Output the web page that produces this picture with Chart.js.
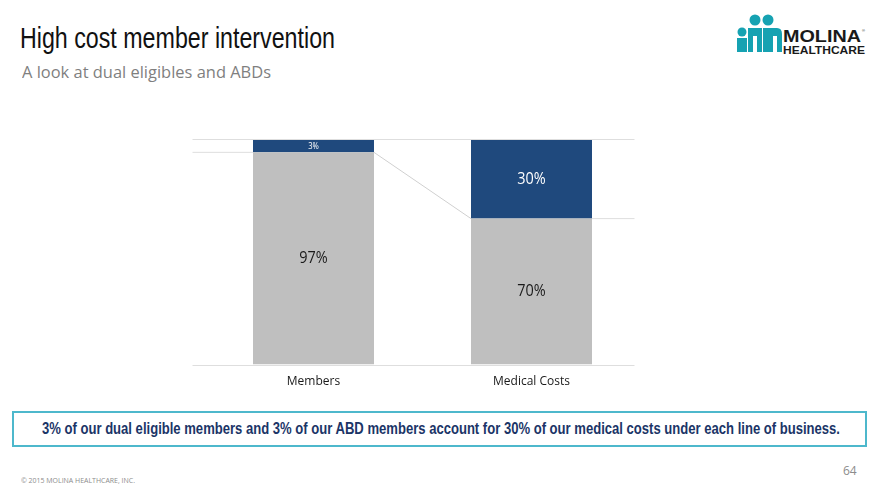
<!DOCTYPE html>
<html>
<head>
<meta charset="utf-8">
<script src="https://cdn.jsdelivr.net/npm/chart.js@4.4.0/dist/chart.umd.min.js"></script>
<style>
  html, body { margin: 0; padding: 0; background: #fff; }
  body { width: 880px; height: 495px; position: relative; overflow: hidden; font-family: "Open Sans", sans-serif; }
  .fit { display: inline-block; transform-origin: 0 0; white-space: nowrap; }
  .title { position: absolute; left: 20px; top: 22px; font-family: "Liberation Sans", sans-serif; font-size: 29px; color: #111; }
  .subtitle { position: absolute; left: 22px; top: 61px; font-family: "Open Sans", sans-serif; font-size: 16px; color: #7f7f7f; }
  .logo { position: absolute; left: 737px; top: 12px; width: 130px; height: 44px; }
  .callout { position: absolute; left: 12px; top: 411px; width: 851px; height: 32px; border: 2px solid #4db8cc; }
  .callout .fit { position: absolute; left: 28px; top: 6px; font-family: "Liberation Sans", sans-serif; font-weight: bold; font-size: 17px; color: #1b3567; }
  .copy { position: absolute; left: 21px; top: 476px; font-size: 7px; color: #8c8c8c; }
  .page { position: absolute; left: 843px; top: 462px; font-size: 12px; color: #8c8c8c; }
  #wrap { position: absolute; left: 180px; top: 120px; width: 480px; height: 280px; }
</style>
</head>
<body>
<div class="title"><span class="fit" data-w="315">High cost member intervention</span></div>
<div class="subtitle"><span class="fit" data-w="249">A look at dual eligibles and ABDs</span></div>

<svg class="logo" viewBox="0 0 130 44">
  <circle cx="5" cy="20" r="4.5" fill="#16a2b2"/>
  <circle cx="18" cy="8" r="5.5" fill="#16a2b2"/>
  <circle cx="31" cy="8" r="5.5" fill="#16a2b2"/>
  <path d="M0 26 h10 v14 h-10 z" fill="#16a2b2"/>
  <path d="M11 16 h14 v24 h-5 v-16 h-4 v16 h-5 z" fill="#16a2b2"/>
  <path d="M26 16 h14 q5 0 5 6 v18 h-5 v-16 h-4 v16 h-10 z" fill="#16a2b2"/>
  <text x="46" y="30" font-family="Liberation Sans, sans-serif" font-weight="bold" font-size="17" fill="#1a1a1a" textLength="78" lengthAdjust="spacingAndGlyphs">MOLINA</text>
  <text x="125" y="20" font-family="Liberation Sans, sans-serif" font-size="4" fill="#1a1a1a">®</text>
  <text x="46" y="42" font-family="Liberation Sans, sans-serif" font-weight="bold" font-size="11" fill="#1a1a1a" textLength="82" lengthAdjust="spacingAndGlyphs">HEALTHCARE</text>
</svg>

<div id="wrap"><canvas id="chart"></canvas></div>

<div class="callout"><span class="fit" data-w="798">3% of our dual eligible members and 3% of our ABD members account for 30% of our medical costs under each line of business.</span></div>
<div class="copy"><span class="fit" data-w="114">© 2015 MOLINA HEALTHCARE, INC.</span></div>
<div class="page">64</div>

<script>
// squeeze text to the widths measured on the slide (condensed font not installed)
document.querySelectorAll(".fit").forEach((el) => {
  const w = el.getBoundingClientRect().width;
  el.style.transform = "scaleX(" + (Number(el.dataset.w) / w) + ")";
});

const categories = ["Members", "Medical Costs"];
// segment heights as drawn on the slide (share of the 100% column)
const restShare = [94.5, 65];
const highCostShare = [5.5, 35];
// label text printed on the segments
const restLabels = ["97%", "70%"];
const highCostLabels = ["3%", "30%"];

const colors = {
  grey: "#bfbfbf",
  navy: "#1f497d",
  line: "#dedede",
  seriesLine: "#d0d0d0",
  text: "#1a1a1a",
  white: "#ffffff",
};

// grid lines and the series line between the two stacks
const seriesLines = {
  id: "seriesLines",
  beforeDatasetsDraw: (chart) => {
    const ctx = chart.ctx;
    const area = chart.chartArea;
    const y = chart.scales.y;
    const left = area.left - 12;
    const right = area.right - 6;
    const bars0 = chart.getDatasetMeta(0).data;
    ctx.save();
    ctx.lineWidth = 1;
    ctx.strokeStyle = colors.line;
    ctx.beginPath();
    // top line (100%)
    ctx.moveTo(left, Math.round(y.getPixelForValue(100)) - 0.5);
    ctx.lineTo(right, Math.round(y.getPixelForValue(100)) - 0.5);
    // baseline
    ctx.moveTo(left, Math.round(y.getPixelForValue(0)) + 0.5);
    ctx.lineTo(right, Math.round(y.getPixelForValue(0)) + 0.5);
    // stack levels outside the bars
    const yA = y.getPixelForValue(restShare[0]);
    const yB = y.getPixelForValue(restShare[1]);
    const a = bars0[0];
    const b = bars0[1];
    ctx.moveTo(left, yA);
    ctx.lineTo(a.x - a.width / 2, yA);
    ctx.moveTo(b.x + b.width / 2, yB);
    ctx.lineTo(right, yB);
    ctx.stroke();
    ctx.strokeStyle = colors.seriesLine;
    ctx.beginPath();
    ctx.moveTo(a.x + a.width / 2, yA);
    ctx.lineTo(b.x - b.width / 2, yB);
    ctx.stroke();
    ctx.restore();
  },
};

const barLabels = {
  id: "barLabels",
  afterDatasetsDraw: (chart) => {
    const ctx = chart.ctx;
    ctx.save();
    ctx.textAlign = "center";
    ctx.textBaseline = "middle";
    chart.data.datasets.forEach((ds, di) => {
      chart.getDatasetMeta(di).data.forEach((bar, i) => {
        const text = ds.labelText[i];
        const small = ds.data[i] < 10;
        ctx.font = (small ? "9px" : "17px") + " 'Open Sans', sans-serif";
        ctx.fillStyle = di === 1 ? colors.white : colors.text;
        const mid = (bar.y + bar.base) / 2;
        ctx.save();
        ctx.translate(bar.x, mid);
        ctx.scale(0.85, 1);
        ctx.fillText(text, 0, 0);
        ctx.restore();
      });
    });
    ctx.restore();
  },
};

const config = {
  type: "bar",
  data: {
    labels: categories,
    datasets: [
      { label: "Rest", data: restShare, labelText: restLabels, backgroundColor: colors.grey },
      { label: "High cost", data: highCostShare, labelText: highCostLabels, backgroundColor: colors.navy },
    ],
  },
  options: {
    animation: false,
    responsive: true,
    maintainAspectRatio: false,
    layout: { padding: { left: 24.5, right: 19.5, top: 20, bottom: 9 } },
    plugins: { legend: { display: false }, tooltip: { enabled: false } },
    datasets: { bar: { barPercentage: 1, categoryPercentage: 0.555 } },
    scales: {
      x: {
        stacked: true,
        grid: { display: false },
        border: { display: false },
        ticks: { color: colors.text, font: { family: "'Open Sans', sans-serif", size: 12 }, padding: 2 },
      },
      y: { stacked: true, display: false, min: 0, max: 100 },
    },
  },
  plugins: [seriesLines, barLabels],
};

new Chart(document.getElementById("chart"), config);
</script>
</body>
</html>
